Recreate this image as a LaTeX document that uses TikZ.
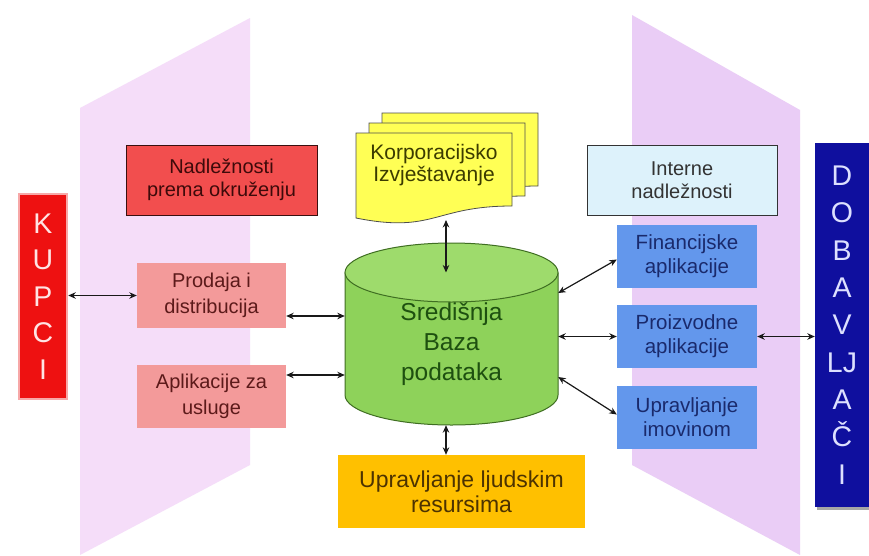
\documentclass[tikz,border=0pt]{standalone}
\usepackage{fontspec}
\setmainfont{Liberation Sans}
\usetikzlibrary{arrows.meta,shadows}
\definecolor{bandL}{HTML}{F5DDF9}
\definecolor{bandR}{HTML}{EACDF6}
\definecolor{cNad}{HTML}{F24E4E}
\definecolor{cNadB}{HTML}{3A1010}
\definecolor{cNadT}{HTML}{3D0A0A}
\definecolor{cSal}{HTML}{F39A9A}
\definecolor{cSalT}{HTML}{5C1A1A}
\definecolor{cInt}{HTML}{DDF2FB}
\definecolor{cIntB}{HTML}{333333}
\definecolor{cBlue}{HTML}{6397EC}
\definecolor{cBlueT}{HTML}{1A2A6C}
\definecolor{cOr}{HTML}{FFC000}
\definecolor{cOrT}{HTML}{4D3300}
\definecolor{cKup}{HTML}{EE1111}
\definecolor{cKupG}{HTML}{F7A8A8}
\definecolor{cKupT}{HTML}{FFE4E4}
\definecolor{cDob}{HTML}{0F0F9E}
\definecolor{cDobT}{HTML}{DDE0FF}
\definecolor{cYel}{HTML}{FFFF55}
\definecolor{cYelB}{HTML}{4D4D4D}
\definecolor{cYelT}{HTML}{3B3B00}
\definecolor{cGreen}{HTML}{8ED25A}
\definecolor{cGreenTop}{HTML}{9EDB6C}
\definecolor{cGreenB}{HTML}{3F6E22}
\definecolor{cGreenT}{HTML}{1E5010}
\begin{document}
\begin{tikzpicture}[x=1pt,y=-1pt,
  box/.style={rectangle, inner sep=2pt, align=center},
  nadbox/.style={box, fill=cNad, draw=cNadB, line width=0.9pt, text=cNadT,
    minimum width=191pt, minimum height=70pt, font=\fontsize{20pt}{23pt}\selectfont},
  intbox/.style={box, fill=cInt, draw=cIntB, line width=0.9pt, text=cIntB,
    minimum width=190pt, minimum height=70pt, font=\fontsize{20pt}{23pt}\selectfont},
  salbox/.style={box, fill=cSal, text=cSalT, minimum width=149pt,
    font=\fontsize{20pt}{26pt}\selectfont},
  bluebox/.style={box, fill=cBlue, text=cBlueT, minimum width=140pt, minimum height=63pt,
    font=\fontsize{20.5pt}{24pt}\selectfont},
  orbox/.style={box, fill=cOr, text=cOrT, minimum width=247pt, minimum height=73pt,
    font=\fontsize{23pt}{25pt}\selectfont},
  kupbox/.style={box, fill=cKup, draw=cKupG, line width=2.5pt, text=cKupT,
    minimum width=48pt, minimum height=205pt, font=\fontsize{28.5pt}{36.5pt}\selectfont},
  dobbox/.style={box, fill=cDob, text=cDobT, minimum width=54pt, minimum height=364pt,
    font=\fontsize{28.5pt}{37.3pt}\selectfont,
    drop shadow={shadow xshift=2pt,shadow yshift=-3pt,opacity=.35,fill=black}},
  doctext/.style={align=center, text=cYelT, font=\fontsize{21pt}{22pt}\selectfont},
  docsheet/.style={fill=cYel, draw=cYelB, line width=0.8pt},
  dbtext/.style={rectangle, align=center, text=cGreenT, minimum width=213pt,
    minimum height=162pt, inner sep=0pt, font=\fontsize{24.5pt}{30pt}\selectfont},
  arr/.style={<->, >={Stealth[length=7.5pt,width=6.5pt]}, line width=1.2pt, draw=black!90}
]
\useasboundingbox (0,0) rectangle (869,555);
\fill[white] (0,0) rectangle (869,555);

% bands
\fill[bandL] (80,108) -- (250,18) -- (250,465) -- (80,555) -- cycle;
\fill[bandR] (632,15) -- (800,110) -- (800,555) -- (632,465) -- cycle;

% boxes
\node[nadbox] (nad) at (221.5,180) {Nadležnosti\\prema okruženju};
\node[intbox] (int) at (682,180) {Interne\\nadležnosti};
\node[salbox, minimum height=65pt] (prod) at (211.5,295.5) {Prodaja i\\distribucija};
\node[salbox, minimum height=63pt] (apl) at (211.5,396.5) {Aplikacije za\\usluge};
\node[bluebox] (fin) at (687,256.5) {Financijske\\aplikacije};
\node[bluebox] (pro) at (687,336.5) {Proizvodne\\aplikacije};
\node[bluebox] (imo) at (687,417.5) {Upravljanje\\imovinom};
\node[orbox] (ljud) at (461.5,491.5) {Upravljanje ljudskim\\resursima};
\node[kupbox] (kup) at (43,296.5) {K\\U\\P\\C\\I};
\node[dobbox] (dob) at (842,325) {D\\O\\B\\A\\V\\LJ\\A\\Č\\I};

% multidocument
\path[docsheet] (382,113) -- (538,113) -- (538,186) .. controls (460,186) and (460,213.7) .. (382,198) -- cycle;
\path[docsheet] (369,123) -- (525,123) -- (525,196) .. controls (447,196) and (447,223.7) .. (369,208) -- cycle;
\path[docsheet] (356,133) -- (512,133) -- (512,206) .. controls (434,206) and (434,233.7) .. (356,218) -- cycle;
\node[doctext] (korp) at (434,165) {Korporacijsko\\Izvještavanje};

% cylinder
\fill[cGreen] (345,272.5) -- (345,395) arc[start angle=180, end angle=360, x radius=106.5pt, y radius=30pt] -- (558,272.5) -- cycle;
\draw[cGreenB, line width=1pt] (345,272.5) -- (345,395) arc[start angle=180, end angle=360, x radius=106.5pt, y radius=30pt] -- (558,272.5);
\filldraw[fill=cGreenTop, draw=cGreenB, line width=1pt] (451.5,272.5) ellipse [x radius=106.5pt, y radius=29.5pt];
\coordinate (dbc) at (451.5,272.5);
\node[dbtext] (db) at (451.5,344) {Središnja\\Baza\\podataka};

% connectors
\coordinate (kb) at (446,220);
\draw[arr] (prod.west -| kup.east) -- (prod.west);
\coordinate (p1) at ([yshift=-20.5pt]prod.east);
\draw[arr] (p1) -- (p1 -| db.west);
\coordinate (p2) at ([yshift=21.5pt]apl.east);
\draw[arr] (p2) -- (p2 -| db.west);
\draw[arr] (kb) -- (kb |- dbc);
\draw[arr] (db.south -| kb) -- (ljud.north -| kb);
\coordinate (q1) at ([yshift=51pt]db.east);
\draw[arr] (q1) -- ([yshift=-3pt]fin.west);
\draw[arr] (pro.west -| db.east) -- (pro.west);
\coordinate (q3) at ([yshift=-33pt]db.east);
\draw[arr] (q3) -- ([yshift=3pt]imo.west);
\draw[arr] (pro.east) -- (pro.east -| dob.west);
\end{tikzpicture}
\end{document}
